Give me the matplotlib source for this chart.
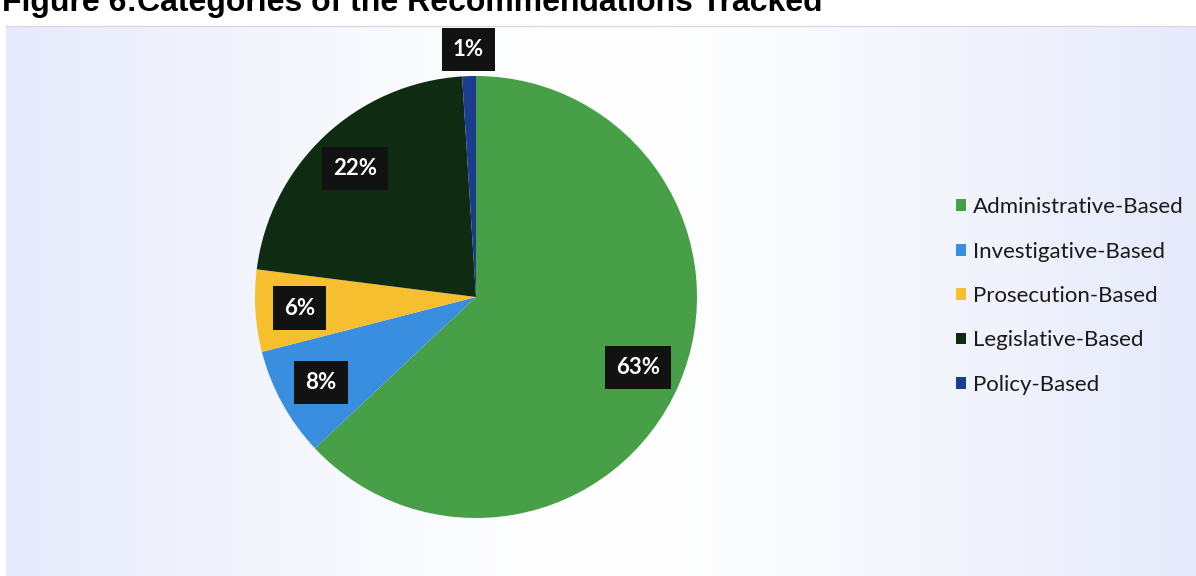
import matplotlib.pyplot as plt
import numpy as np

categories = ['Administrative-Based', 'Investigative-Based', 'Prosecution-Based',
              'Legislative-Based', 'Policy-Based']
shares = [63, 8, 6, 22, 1]
colors = ['#47a047', '#3a8ee0', '#f5bf30', '#0f2c12', '#1c3d8f']
title = 'Figure 6:Categories of the Recommendations Tracked'

W, H = 1196, 576
fig = plt.figure(figsize=(W / 100, H / 100), dpi=100)
fig.patch.set_facecolor('white')

# soft lavender panel behind the chart
bg = fig.add_axes([6 / W, 0, 1 - 6 / W, 1 - 26 / H])
g = np.abs(np.linspace(-1, 1, 400)) ** 1.4
lav = np.array([0.90, 0.915, 0.98])
white = np.array([1.0, 1.0, 1.0])
row = white[None, :] * (1 - g[:, None]) + lav[None, :] * g[:, None]
bg.imshow(row[None, :, :], aspect='auto', extent=[0, 1, 0, 1])
bg.set_axis_off()
fig.add_artist(plt.Line2D([6 / W, 1], [1 - 26 / H] * 2, color='#d8dbe4', lw=1))

# title is partly cropped at the top edge, as in the source scan
fig.text(2 / W, 1 - 11 / H, title, fontsize=23, fontweight='bold',
         family='Liberation Sans', va='baseline', ha='left')

cx, cy, r = 476, 297, 221
ax = fig.add_axes([(cx - r) / W, (H - cy - r) / H, 2 * r / W, 2 * r / H])
wedges, texts, autotexts = ax.pie(
    shares, colors=colors, startangle=90, counterclock=False, radius=1,
    autopct='%1.0f%%', pctdistance=0.8,
    wedgeprops=dict(linewidth=0),
    textprops=dict(color='white', fontsize=16, fontweight='bold', family='Lato'))
ax.set_xlim(-1, 1)
ax.set_ylim(-1, 1)
ax.set_aspect('equal')

for w, t in zip(wedges, autotexts):
    t.set_bbox(dict(boxstyle='square,pad=0.5', fc='#121212', ec='none'))
    if w.theta2 - w.theta1 < 10:
        ang = np.deg2rad((w.theta1 + w.theta2) / 2)
        t.set_position((1.12 * np.cos(ang), 1.12 * np.sin(ang)))

fig.legend(wedges, categories, loc='center left',
           bbox_to_anchor=(956 / W, 1 - 296 / H), frameon=False,
           prop=dict(family='Lato', size=16), labelcolor='#1a1a1a',
           handlelength=0.45, handleheight=0.45, handletextpad=0.3,
           labelspacing=1.1, borderpad=0, borderaxespad=0)

fig.savefig('out.png', dpi=100)
